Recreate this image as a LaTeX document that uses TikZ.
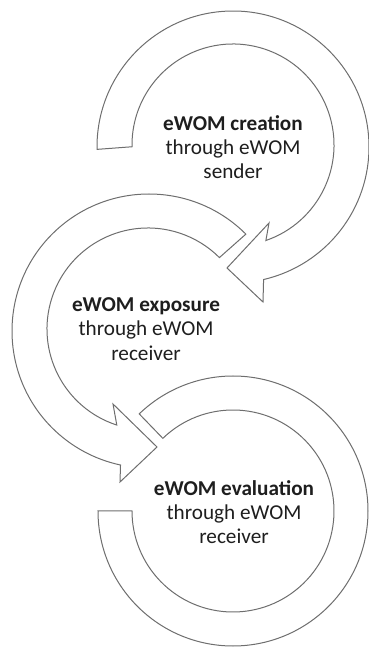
\documentclass[tikz,border=0pt]{standalone}
\usepackage{fontspec}
\setmainfont{Carlito}
\usetikzlibrary{calc}
\definecolor{ringline}{RGB}{110,110,110}
\definecolor{txt}{RGB}{30,30,30}
\tikzset{
  ring/.style={draw=ringline, fill=white, line width=1pt, line join=miter},
  label/.style={align=center, text=txt, font=\fontsize{21.2}{24.2}\selectfont, inner sep=0pt}
}
\begin{document}
\begin{tikzpicture}[x=1pt,y=1pt]
\useasboundingbox (0,0) rectangle (368,649);
% centres
\coordinate (Tout) at (233,502);
\coordinate (Tin)  at (233,504);
\coordinate (Mout) at (149,318);
\coordinate (Min)  at (148,320);
\coordinate (B)    at (233,138);
% arrowhead points
\coordinate (Tbo) at (263,347);
\coordinate (Ttip) at (227,381);
\coordinate (Tbi) at (269,426);
\coordinate (Mbo) at (120,167);
\coordinate (Mtip) at (157,202);
\coordinate (Mbi) at (113,245);
% top ring: clockwise arrow
\path[ring] ($(Tout)+(181:136)$) arc[start angle=181, end angle=-77, radius=136]
  -- (Tbo) -- (Ttip) -- (Tbi)
  -- ($(Tin)+(-71:101)$) arc[start angle=-71, end angle=181, radius=101] -- cycle;
% middle ring: counter-clockwise arrow
\path[ring] ($(Mout)+(45:137)$) arc[start angle=45, end angle=258, radius=137]
  -- (Mbo) -- (Mtip) -- (Mbi)
  -- ($(Min)+(252:101)$) arc[start angle=252, end angle=45, radius=101] -- cycle;
% bottom ring: open ring
\path[ring] ($(B)+(180:135)$) arc[start angle=180, end angle=494, radius=135]
  -- ($(B)+(134:101)$) arc[start angle=494, end angle=180, radius=101] -- cycle;
% texts
\node[label] (creation) at (233,502) {\textbf{eWOM creation}\\through eWOM\\sender};
\node[label] (exposure) at (146,320) {\textbf{eWOM exposure}\\through eWOM\\receiver};
\node[label] (evaluation) at (234,137) {\textbf{eWOM evaluation}\\through eWOM\\receiver};
\end{tikzpicture}
\end{document}
